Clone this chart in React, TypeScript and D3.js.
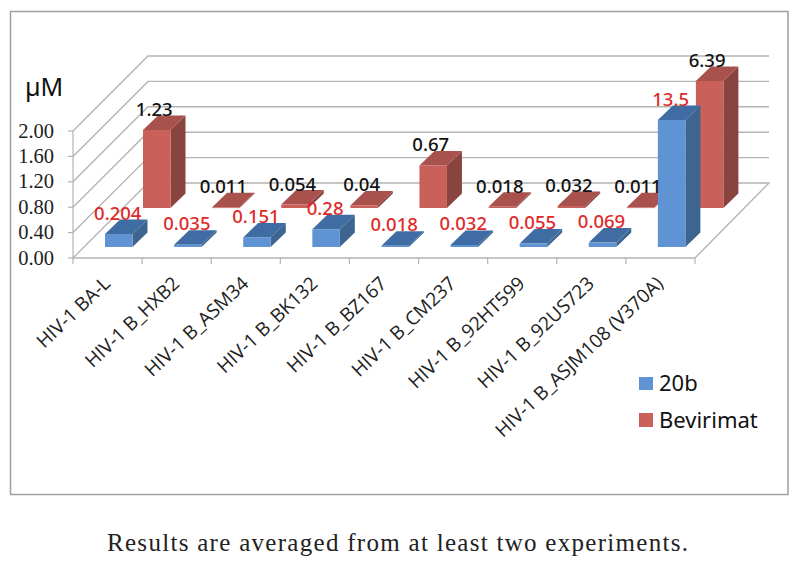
import React from "react";
import * as d3 from "d3";

const categories = ["HIV-1 BA-L","HIV-1 B_HXB2","HIV-1 B_ASM34","HIV-1 B_BK132","HIV-1 B_BZ167","HIV-1 B_CM237","HIV-1 B_92HT599","HIV-1 B_92US723","HIV-1 B_ASJM108 (V370A)"];
const values20b = [0.204,0.035,0.151,0.28,0.018,0.032,0.055,0.069,13.5];
const valuesBev = [1.23,0.011,0.054,0.04,0.67,0.018,0.032,0.011,6.39];
const labels20b = ["0.204","0.035","0.151","0.28","0.018","0.032","0.055","0.069","13.5"];
const labelsBev = ["1.23","0.011","0.054","0.04","0.67","0.018","0.032","0.011","6.39"];
const yTicks = [0,0.4,0.8,1.2,1.6,2.0];

const W = 796, H = 562;
const x = d3.scaleBand<number>().domain(d3.range(categories.length)).range([73,695]).paddingInner(0).paddingOuter(0);
const y = d3.scaleLinear().domain([0,2]).range([258,131]);
const step = x.bandwidth();
const depth = 75;
const barW = 27.5, barD = 15, barDy = 14.5;
const blueOff = 32, redOff = 70, blueBase = 247, redBase = 208;
const clip = (v:number)=>Math.min(v,2);
const hgt = (v:number)=>y(0)-y(clip(v));

const poly = (p:[number,number][]) => d3.line()(p)! + "Z";

function Bar({x0,base,v,front,top,side}:{x0:number,base:number,v:number,front:string,top:string,side:string}){
  const h = hgt(v);
  const t = base-h;
  return <g>
    <path d={poly([[x0+barW,base],[x0+barW+barD,base-barDy],[x0+barW+barD,t-barDy],[x0+barW,t]])} fill={side}/>
    <path d={poly([[x0,t],[x0+barW,t],[x0+barW+barD,t-barDy],[x0+barD,t-barDy]])} fill={top}/>
    <rect x={x0} y={t} width={barW} height={Math.max(h,0.8)} fill={front}/>
  </g>;
}

const valFont = "'Noto Sans', sans-serif";

export default function App(){
  const grid = "#b4b4b4";
  return <svg width={W} height={H} viewBox={`0 0 ${W} ${H}`} style={{position:"absolute",left:0,top:0,background:"#fff"}}>
    <rect x={10.5} y={11.5} width={777.5} height={483} fill="#fff" stroke="#a0a0a0" strokeWidth={1.5}/>
    {yTicks.map(t=>{
      const yy=y(t);
      return <g key={t}>
        {t>0 && <path d={`M73,${yy}L148,${yy-depth}L769,${yy-depth}`} fill="none" stroke={grid} strokeWidth={1.4}/>}
        <text x={54} y={yy+6.5} textAnchor="end" fontFamily="'Liberation Serif', serif" fontSize={20.5} fill="#222">{t.toFixed(2)}</text>
        <line x1={68} x2={73} y1={yy} y2={yy} stroke={grid} strokeWidth={1.2}/>
      </g>;
    })}
    <path d={`M73,258L148,183L769,183L695,258Z`} fill="#fff" stroke={grid} strokeWidth={1.4}/>
    <line x1={73} x2={73} y1={131} y2={258} stroke={grid} strokeWidth={1.2}/>
    {d3.range(categories.length+1).map(i=>{
      const xx=73+i*step;
      return <line key={i} x1={xx} x2={xx} y1={258} y2={264} stroke={grid} strokeWidth={1.2}/>;
    })}
    {categories.map((c,i)=><Bar key={"r"+i} x0={x(i)!+redOff} base={redBase} v={valuesBev[i]} front="#c9605a" top="#a9514d" side="#8a4440"/>)}
    {categories.map((c,i)=><Bar key={"b"+i} x0={x(i)!+blueOff} base={blueBase} v={values20b[i]} front="#5f93d4" top="#3f6da3" side="#3d658f"/>)}
    <text x={25} y={96} fontFamily={valFont} fontSize={25} fill="#111">µM</text>
    {categories.map((c,i)=>(
      <text key={"lb"+i} x={x(i)!+redOff+barW/2-2.5} y={redBase-hgt(valuesBev[i])-14} textAnchor="middle" fontFamily={valFont} fontSize={18.5} fontWeight={500} fill="#111">{labelsBev[i]}</text>
    ))}
    {categories.map((c,i)=>(
      <text key={"lr"+i} x={x(i)!+blueOff+barW/2-1} y={blueBase-hgt(values20b[i])-14.5} textAnchor="middle" fontFamily={valFont} fontSize={18.5} fontWeight={500} fill="#e02a2a">{labels20b[i]}</text>
    ))}
    {categories.map((c,i)=>{
      const ex=x(i)!+step/2+4, ey=285;
      return <text key={c} transform={`translate(${ex},${ey}) rotate(-43.5)`} textAnchor="end" fontFamily="'Open Sans', sans-serif" fontSize={19} fill="#222">{c}</text>;
    })}
    <rect x={639} y={377} width={14} height={13} fill="#5f93d4"/>
    <rect x={639} y={413} width={14} height={14} fill="#c9605a"/>
    <text x={659} y={391} fontFamily={valFont} fontSize={22} fill="#111">20b</text>
    <text x={659} y={428} fontFamily={valFont} fontSize={22} fill="#111">Bevirimat</text>
    <text x={107} y={551} fontFamily="'Liberation Serif', serif" fontSize={25} textLength={581} lengthAdjust="spacing" fill="#222">Results are averaged from at least two experiments.</text>
  </svg>;
}
